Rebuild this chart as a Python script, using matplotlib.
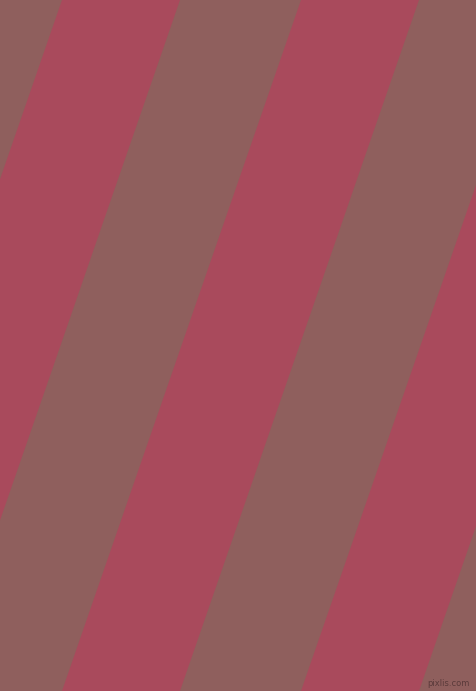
import matplotlib.pyplot as plt
from matplotlib.patches import Polygon

# stripe pattern (pixel units)
width_px = 476
height_px = 691
red_left_top = [-177, 62, 301, 540]   # left edge of each crimson band at y=0
red_width = 118                        # horizontal width of a crimson band
shift = 239                            # horizontal drift from top to bottom
brown = '#8f5f5d'
crimson = '#a94a5c'

fig = plt.figure(figsize=(width_px / 100, height_px / 100), dpi=100)
ax = fig.add_axes([0, 0, 1, 1])
ax.set_xlim(0, width_px)
ax.set_ylim(height_px, 0)
ax.set_facecolor(brown)
ax.axis('off')
fig.patch.set_facecolor(brown)

for x0 in red_left_top:
    pts = [(x0, 0), (x0 + red_width, 0),
           (x0 + red_width - shift, height_px), (x0 - shift, height_px)]
    ax.add_patch(Polygon(pts, closed=True, facecolor=crimson, edgecolor='none'))

ax.text(470, 683, 'pixlis.com', fontsize=6, color='#5a3a3a', ha='right', va='center')

fig.savefig('out.png', dpi=100, facecolor=brown)
